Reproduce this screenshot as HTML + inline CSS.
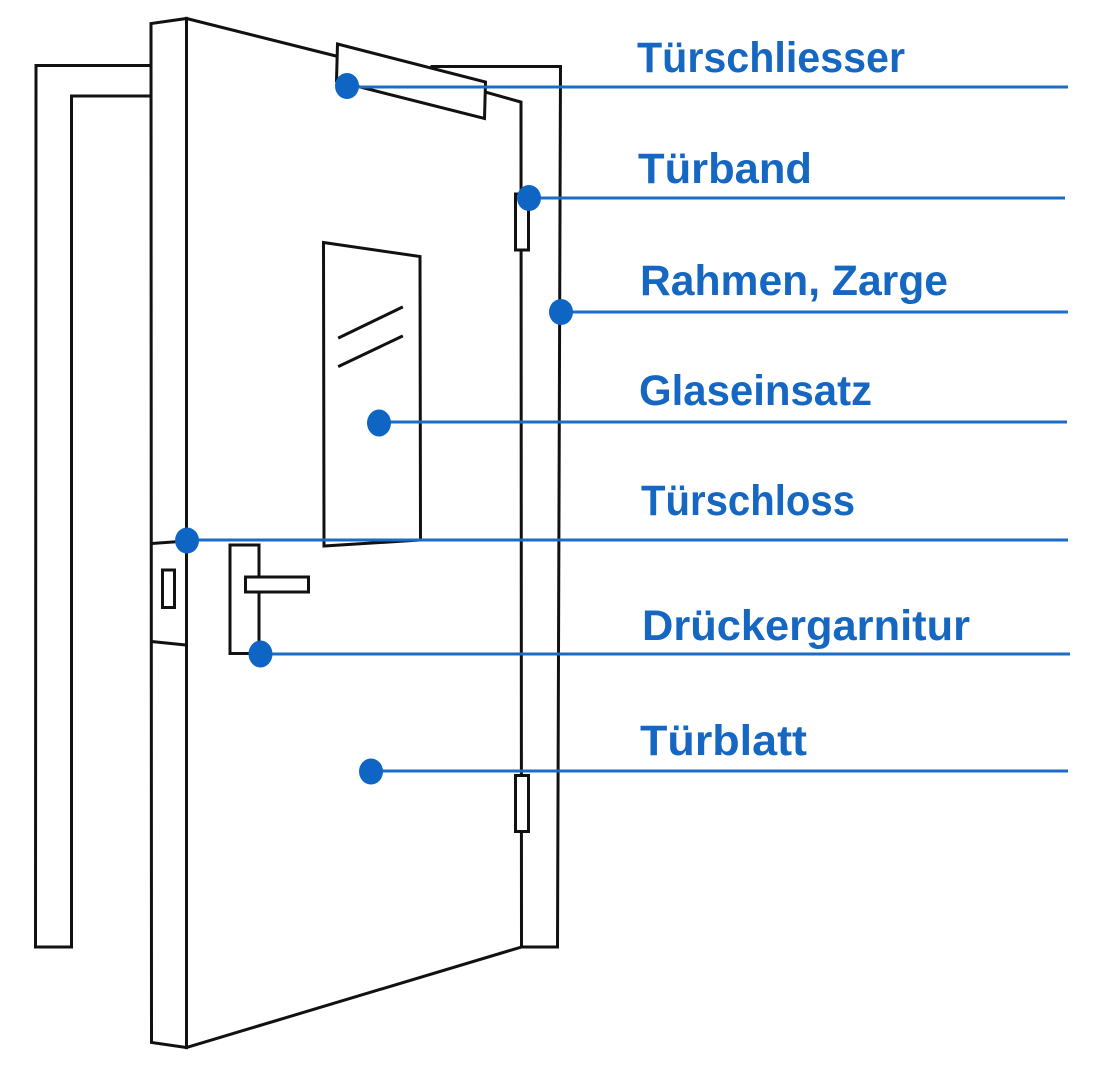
<!DOCTYPE html>
<html>
<head>
<meta charset="utf-8">
<style>
  html, body { margin:0; padding:0; background:#ffffff; }
  body { width:1100px; height:1071px; overflow:hidden; }
  svg { display:block; }
  .lbl { font-family: "Liberation Sans", "DejaVu Sans", sans-serif; font-weight:700; fill:#1567c2; }
</style>
</head>
<body>
<svg width="1100" height="1071" viewBox="0 0 1100 1071" xmlns="http://www.w3.org/2000/svg">
  <rect x="0" y="0" width="1100" height="1071" fill="#ffffff"/>
  <g fill="none" stroke="#111111" stroke-width="3" stroke-linejoin="miter" stroke-linecap="square">
    <!-- left frame -->
    <polyline points="150,65.5 36,65.5 35.5,947 71.5,947 71.5,96 150,96"/>
    <!-- right frame -->
    <polyline points="432,66.5 560.5,66.5 557.5,947 521.5,947"/>
    <!-- door narrow left face -->
    <polyline points="186.5,18.5 151,23.5 151.5,1042.5 186.5,1047.5"/>
    <line x1="186.5" y1="18.5" x2="186.5" y2="1047.5"/>
    <!-- door top edge (left part up to closer) -->
    <line x1="186.5" y1="18.5" x2="336" y2="56"/>
    <!-- door top edge right part -->
    <polyline points="485,92 521,102 521.5,947 186.5,1047.5"/>
    <!-- closer -->
    <polygon points="337.5,44 485.5,82 484.5,118.5 336.5,81" fill="#ffffff"/>
    <!-- hinges -->
    <rect x="515.5" y="194" width="13" height="56" fill="#ffffff"/>
    <rect x="515.5" y="775.5" width="13" height="56" fill="#ffffff"/>
    <!-- window -->
    <polygon points="323.5,242.5 420,256.5 420.5,540 324,546" fill="#ffffff"/>
    <line x1="339.5" y1="337.5" x2="401.5" y2="307.5"/>
    <line x1="339.5" y1="366" x2="401.5" y2="336.5"/>
    <!-- lock face -->
    <line x1="151.5" y1="543.5" x2="180" y2="541.5"/>
    <rect x="162.5" y="570" width="12" height="37.5"/>
    <line x1="151.5" y1="641.5" x2="185.5" y2="645"/>
    <!-- handle -->
    <rect x="230" y="545" width="29" height="108.5" fill="#ffffff"/>
    <rect x="245.5" y="577" width="63" height="15" fill="#ffffff"/>
  </g>

  <!-- leader lines -->
  <g stroke="#1a6cc6" stroke-width="3" fill="none">
    <line x1="346" y1="87" x2="1068" y2="87"/>
    <line x1="529" y1="198" x2="1065" y2="198"/>
    <line x1="561" y1="312" x2="1068" y2="312"/>
    <line x1="379" y1="422" x2="1067" y2="422"/>
    <line x1="187" y1="540" x2="1068" y2="540"/>
    <line x1="260" y1="654" x2="1070" y2="654"/>
    <line x1="371" y1="771" x2="1068" y2="771"/>
  </g>
  <!-- dots -->
  <g fill="#0f65c4">
    <ellipse cx="347" cy="86" rx="12" ry="13"/>
    <ellipse cx="529" cy="198" rx="12" ry="13"/>
    <ellipse cx="561" cy="312" rx="12" ry="13"/>
    <ellipse cx="379" cy="423" rx="12" ry="13.5"/>
    <ellipse cx="187" cy="540.5" rx="12" ry="13"/>
    <ellipse cx="260.5" cy="654" rx="12" ry="13.5"/>
    <ellipse cx="371" cy="771.5" rx="12" ry="13"/>
  </g>

  <!-- labels -->
  <text class="lbl" x="637" y="72" font-size="43" textLength="268" lengthAdjust="spacingAndGlyphs">Türschliesser</text>
  <text class="lbl" x="638" y="183" font-size="43" textLength="174" lengthAdjust="spacingAndGlyphs">Türband</text>
  <text class="lbl" x="640" y="295" font-size="43" textLength="308" lengthAdjust="spacingAndGlyphs">Rahmen, Zarge</text>
  <text class="lbl" x="639" y="405" font-size="43" textLength="233" lengthAdjust="spacingAndGlyphs">Glaseinsatz</text>
  <text class="lbl" x="641" y="515" font-size="43" textLength="214" lengthAdjust="spacingAndGlyphs">Türschloss</text>
  <text class="lbl" x="642" y="640" font-size="43" textLength="328" lengthAdjust="spacingAndGlyphs">Drückergarnitur</text>
  <text class="lbl" x="640" y="755" font-size="43" textLength="167" lengthAdjust="spacingAndGlyphs">Türblatt</text>
</svg>
</body>
</html>
